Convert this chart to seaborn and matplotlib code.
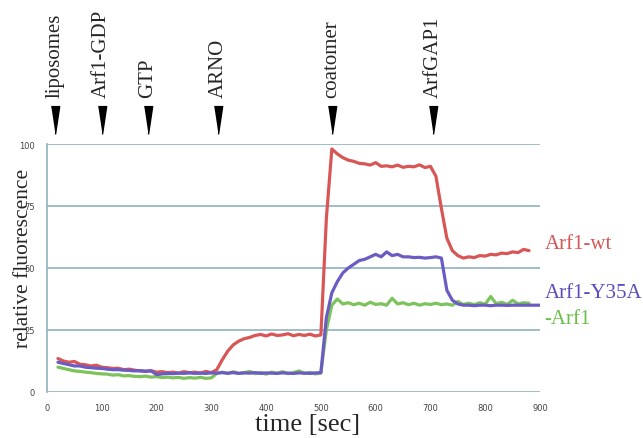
import numpy as np
import pandas as pd
import matplotlib
matplotlib.use("Agg")
import matplotlib.pyplot as plt
import seaborn as sns

# time axis in seconds (10 s steps)
time_sec = list(range(20, 901, 10))

arf1_wt = [13.5, 12.5, 12.0, 12.3, 11.2, 11.0, 10.5, 10.8, 10.0, 9.8,
           9.5, 9.6, 9.0, 9.2, 8.8, 8.5, 8.3, 8.6, 8.0, 8.2,
           7.8, 8.0, 7.6, 8.2, 7.8, 8.0, 7.6, 8.3, 7.8, 9.0,
           13.0, 16.5, 19.0, 20.5, 21.5, 22.0, 22.8, 23.2, 22.6, 23.4,
           22.8, 23.0, 23.5, 22.7, 23.2, 22.8, 23.3, 22.6, 23.0, 70.0,
           98.0, 96.0, 94.5, 93.5, 93.0, 92.2, 92.0, 91.5, 92.5, 91.0,
           91.2, 90.8, 91.5, 90.6, 91.0, 90.8, 91.6, 90.5, 91.0, 87.0,
           74.0, 62.0, 57.0, 55.0, 54.0, 54.5, 54.2, 55.0, 54.8, 55.5,
           55.3, 56.0, 55.8, 56.5, 56.2, 57.5, 57.0, np.nan, np.nan]

arf1_y35a = [12.0, 11.5, 11.0, 10.5, 10.5, 10.0, 9.8, 9.6, 9.5, 9.2,
             9.0, 9.0, 8.8, 8.7, 8.5, 8.6, 8.4, 8.5, 7.0, 7.3,
             7.5, 7.4, 7.6, 7.5, 7.7, 7.5, 7.6, 7.5, 7.7, 7.6,
             7.8, 7.6, 7.8, 7.5, 7.7, 7.6, 7.8, 7.5, 7.7, 7.6,
             7.5, 7.7, 7.6, 7.5, 7.7, 7.6, 7.5, 7.7, 7.8, 30.0,
             40.0, 44.5, 48.0, 50.0, 51.5, 53.0, 53.5, 54.5, 55.5, 54.5,
             56.5, 55.0, 55.5, 54.5, 54.5, 54.2, 54.3, 54.0, 54.2, 54.5,
             54.0, 41.0, 37.0, 35.5, 35.0, 35.0, 34.8, 35.0, 35.0, 34.8,
             35.0, 35.0, 34.9, 35.0, 35.0, 35.0, 35.0, 35.0, 35.0]

minus_arf1 = [10.0, 9.5, 9.0, 8.5, 8.3, 8.0, 7.8, 7.5, 7.3, 7.2,
              6.8, 7.0, 6.5, 6.6, 6.3, 6.2, 6.4, 6.0, 6.2, 5.8,
              6.0, 5.7, 5.9, 5.5, 5.8, 5.6, 5.9, 5.5, 5.7, 7.5,
              8.0, 7.4, 8.2, 7.5, 7.8, 8.3, 7.4, 7.9, 7.2, 8.0,
              7.6, 8.2, 7.4, 7.8, 8.5, 7.5, 7.9, 7.3, 7.6, 25.0,
              35.0, 37.5, 35.5, 36.0, 35.2, 35.8, 35.0, 36.2, 35.3, 35.6,
              35.0, 37.8, 35.5, 36.0, 35.2, 35.8, 35.0, 35.6, 35.3, 35.8,
              35.2, 35.5, 35.0, 36.5, 35.3, 35.8, 35.2, 36.0, 35.4, 38.5,
              35.6, 36.2, 35.3, 37.0, 35.5, 36.0, 35.8, np.nan, np.nan]

# additions during the run
event_names = ["liposomes", "Arf1-GDP", "GTP", "ARNO", "coatomer", "ArfGAP1"]
event_times = [15, 100, 184, 312, 520, 705]

series_names = ["-Arf1", "Arf1-wt", "Arf1-Y35A"]
colors = {"-Arf1": "#7dc35b", "Arf1-wt": "#d95656", "Arf1-Y35A": "#6b5cc4"}

df = pd.DataFrame({"time": time_sec * 3,
                   "value": minus_arf1 + arf1_wt + arf1_y35a,
                   "series": sum([[s] * len(time_sec) for s in series_names], [])})
df = df.dropna()

sns.set_style("white")
serif = ["Liberation Serif", "DejaVu Serif"]

fig = plt.figure(figsize=(6.43, 4.39), dpi=100)
ax = fig.add_axes([0.0731, 0.1048, 0.7667, 0.5649])

grid_col = "#8fb1bf"
for yv in [0, 25, 50, 75, 100]:
    ax.axhline(yv, color=grid_col, lw=1.2, zorder=0)

sns.lineplot(data=df, x="time", y="value", hue="series", palette=colors,
             hue_order=series_names, lw=2.3, legend=False, ax=ax, zorder=3)

ax.set_xlim(0, 900)
ax.set_ylim(0, 100)
ax.set_xticks(range(0, 901, 100))
ax.set_yticks([0, 25, 50, 75, 100])
ax.tick_params(labelsize=6, length=0, colors="#444444")
ax.tick_params(axis="x", pad=8)
ax.tick_params(axis="y", pad=9)
for s in ["top", "right", "bottom"]:
    ax.spines[s].set_visible(False)
ax.spines["left"].set_color(grid_col)
ax.spines["left"].set_linewidth(1.2)
ax.set_xlabel("")
ax.set_ylabel("")

# arrows and labels for each addition
wedge = [(-0.3, 1.0), (0.3, 1.0), (0.0, -1.0)]
ax.scatter(event_times, [109.7] * len(event_times), marker=wedge, s=400,
           color="black", clip_on=False, zorder=5)
for name, t in zip(event_names, event_times):
    ax.text(t, 119, name, rotation=90, ha="center", va="bottom",
            fontsize=15, family=serif, clip_on=False)

# series labels on the right
ax.text(908, 60, "Arf1-wt", color="#d95656", fontsize=15, family=serif, va="center")
ax.text(908, 40, "Arf1-Y35A", color="#5a4cc0", fontsize=15, family=serif, va="center")
ax.text(908, 29.5, "-Arf1", color="#6cc04a", fontsize=15, family=serif, va="center")

fig.text(24 / 643, 1 - 258 / 439, "relative fluorescence", rotation=90,
         ha="center", va="center", fontsize=15.5, family=serif)
fig.text(308 / 643, 1 - 425 / 439, "time [sec]", ha="center", va="center",
         fontsize=19, family=serif)

fig.savefig("out.png", dpi=100)
